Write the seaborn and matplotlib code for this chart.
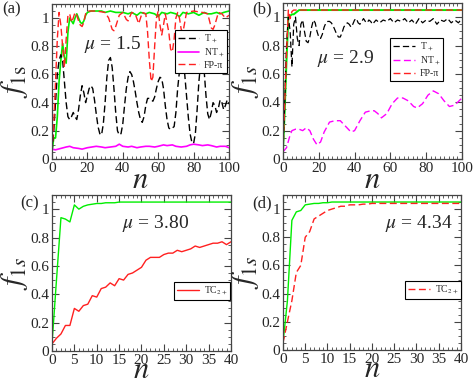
import numpy as np
import pandas as pd
import matplotlib
matplotlib.use("Agg")
import matplotlib.pyplot as plt
import seaborn as sns
from matplotlib.ticker import MultipleLocator

# ---- panel (a): mu = 1.5 ----
a_n_green = [0, 1, 2, 3, 4, 5, 6, 7, 8, 9, 10, 11, 12, 13, 14, 15, 16, 17, 18, 19, 20, 22, 25, 28, 30, 33, 36,
             40, 43, 45, 48, 50, 53, 55, 58, 60, 62, 65, 67, 70, 72, 74, 77, 80, 83, 86, 88, 90, 93, 95, 97, 100]
a_green = [0.05, 0.15, 0.15, 0.3, 0.55, 0.7, 0.82, 0.72, 0.68, 0.9, 1.0, 0.98, 0.96, 1.0, 1.03, 1.0, 0.97, 0.96,
           0.98, 1.02, 1.04, 1.05, 1.05, 1.05, 1.04, 1.05, 1.04, 1.04, 1.03, 1.04, 1.02, 1.04, 1.03, 1.04, 1.03,
           1.01, 1.04, 1.03, 1.04, 1.03, 1.01, 1.04, 1.03, 1.04, 1.02, 1.04, 1.03, 1.03, 1.04, 1.03, 1.04, 1.05]

a_n_red = [0, 1, 2, 3, 4, 5, 6, 7, 8, 9, 10, 11, 12, 13, 14, 15, 16, 17, 18, 19, 20, 25, 30, 32, 34, 35, 36, 38,
           40, 42, 43, 45, 47, 49, 51, 53, 54, 55, 56, 57, 58, 59, 60, 61, 62, 63, 64, 66, 67, 68, 69, 70, 71,
           72, 73, 74, 75, 76, 80, 85, 88, 89, 90, 91, 92, 94, 96, 98, 100]
a_red = [0.05, 0.25, 0.55, 0.85, 1.04, 0.95, 0.8, 0.65, 0.85, 1.02, 1.03, 0.97, 1.0, 1.04, 1.02, 0.98, 0.95,
         0.94, 0.97, 1.03, 1.05, 1.05, 1.04, 1.0, 0.92, 0.91, 0.94, 1.02, 1.04, 0.99, 0.98, 1.04, 1.03, 0.96,
         1.04, 1.03, 0.9, 0.7, 0.55, 0.58, 0.8, 1.0, 1.05, 0.95, 0.88, 0.95, 1.03, 0.9, 0.78, 0.76, 0.85, 1.0,
         1.04, 1.0, 0.92, 0.9, 0.97, 1.04, 1.05, 1.04, 1.03, 0.98, 0.93, 0.92, 0.95, 1.04, 1.03, 1.0, 1.02]

a_n_black = list(range(0, 101))
a_black = [0.05, 0.2, 0.4, 0.6, 0.7, 0.74, 0.7, 0.55, 0.4, 0.3, 0.28, 0.3, 0.33, 0.3, 0.28, 0.35, 0.45, 0.52,
           0.47, 0.4, 0.45, 0.5, 0.52, 0.5, 0.42, 0.32, 0.23, 0.18, 0.17, 0.25, 0.4, 0.58, 0.7, 0.72, 0.65, 0.5,
           0.33, 0.2, 0.17, 0.18, 0.25, 0.38, 0.5, 0.58, 0.62, 0.6, 0.55, 0.48, 0.4, 0.33, 0.28, 0.26, 0.3, 0.38,
           0.43, 0.43, 0.42, 0.41, 0.44, 0.5, 0.55, 0.58, 0.57, 0.5, 0.38, 0.28, 0.22, 0.21, 0.22, 0.23, 0.33,
           0.5, 0.62, 0.67, 0.66, 0.6, 0.45, 0.3, 0.18, 0.12, 0.11, 0.18, 0.35, 0.55, 0.68, 0.7, 0.62, 0.45, 0.32,
           0.28, 0.33, 0.4, 0.38, 0.33, 0.36, 0.42, 0.4, 0.35, 0.38, 0.42, 0.39]

a_n_mag = [0, 2, 5, 8, 10, 12, 15, 17, 20, 25, 28, 30, 33, 36, 38, 40, 43, 45, 48, 50, 53, 55, 58, 60, 63, 65,
           68, 70, 73, 76, 78, 80, 83, 85, 88, 90, 93, 95, 98, 100]
a_mag = [0.07, 0.065, 0.075, 0.085, 0.09, 0.08, 0.075, 0.07, 0.08, 0.09, 0.085, 0.08, 0.085, 0.09, 0.105, 0.09,
         0.085, 0.09, 0.08, 0.085, 0.09, 0.09, 0.085, 0.09, 0.1, 0.095, 0.1, 0.09, 0.085, 0.09, 0.1, 0.105, 0.1,
         0.095, 0.1, 0.095, 0.085, 0.09, 0.09, 0.08]

# ---- panel (b): mu = 2.9 ----
b_n_green = [0, 1, 2, 3, 4, 5, 6, 7, 8, 9, 100]
b_green = [0.05, 0.35, 0.7, 1.0, 1.01, 1.02, 1.02, 1.03, 1.04, 1.05, 1.05]
b_n_red = [0, 1, 2, 3, 4, 5, 6, 100]
b_red = [0.05, 0.4, 0.75, 1.05, 0.99, 1.04, 1.05, 1.05]

b_n_black = list(range(0, 51)) + list(range(52, 101, 2))
b_black = [0.05, 0.4, 0.8, 1.0, 0.9, 0.65, 0.95, 1.0, 0.85, 0.8, 0.95, 0.98, 0.9, 0.83, 0.82, 0.86, 0.93, 0.98,
           0.96, 0.9, 0.86, 0.85, 0.88, 0.93, 0.96, 0.97, 0.97, 0.96, 0.94, 0.91, 0.88, 0.86, 0.86, 0.89, 0.93,
           0.95, 0.96, 0.95, 0.93, 0.95, 0.98, 0.99, 0.96, 0.95, 0.97, 0.99, 0.97, 0.96, 0.98, 0.97, 0.95,
           0.98, 0.96, 0.98, 0.97, 0.99, 0.96, 0.98, 0.97, 0.99, 0.96, 0.98, 0.95, 0.99, 0.96, 0.98, 0.97, 0.99,
           0.95, 0.98, 0.97, 0.99, 0.96, 0.98, 0.96, 0.99]

b_n_mag = [0, 2, 4, 5, 7, 9, 11, 13, 15, 17, 19, 21, 23, 26, 29, 32, 35, 38, 40, 43, 46, 49, 51, 53, 55, 58,
           61, 64, 67, 70, 73, 75, 78, 81, 84, 87, 90, 93, 96, 100]
b_mag = [0.05, 0.08, 0.17, 0.2, 0.21, 0.21, 0.2, 0.22, 0.2, 0.14, 0.1, 0.12, 0.19, 0.26, 0.27, 0.27, 0.23, 0.19,
         0.2, 0.27, 0.33, 0.34, 0.34, 0.32, 0.29, 0.32, 0.39, 0.43, 0.43, 0.41, 0.37, 0.36, 0.39, 0.45, 0.48,
         0.46, 0.41, 0.37, 0.38, 0.43]

# ---- panel (c): mu = 3.80 ----
c_n = list(range(0, 41))
c_green = [0.05, 0.5, 0.94, 0.93, 0.91, 1.03, 1.0, 1.02, 1.03, 1.035, 1.04, 1.04, 1.045, 1.045, 1.045, 1.05,
           1.05, 1.05, 1.05, 1.05, 1.05, 1.05, 1.05, 1.05, 1.05, 1.05, 1.05, 1.05, 1.05, 1.05, 1.05, 1.05, 1.05,
           1.05, 1.05, 1.05, 1.05, 1.05, 1.05, 1.05, 1.05]
c_red = [0.05, 0.09, 0.12, 0.18, 0.18, 0.3, 0.28, 0.32, 0.33, 0.39, 0.38, 0.44, 0.45, 0.48, 0.46, 0.51, 0.5,
         0.54, 0.55, 0.57, 0.59, 0.64, 0.66, 0.66, 0.66, 0.68, 0.69, 0.69, 0.71, 0.7, 0.71, 0.72, 0.74, 0.73,
         0.74, 0.75, 0.76, 0.76, 0.77, 0.75, 0.77]

# ---- panel (d): mu = 4.34 ----
d_n = list(range(0, 41))
d_green = [0.05, 0.35, 0.92, 0.98, 0.99, 1.03, 1.035, 1.04, 1.04, 1.045, 1.045, 1.05, 1.05, 1.05, 1.05, 1.05,
           1.05, 1.05, 1.05, 1.05, 1.05, 1.05, 1.05, 1.05, 1.05, 1.05, 1.05, 1.05, 1.05, 1.05, 1.05, 1.05, 1.05,
           1.05, 1.05, 1.05, 1.05, 1.05, 1.05, 1.05, 1.05]
d_red = [0.05, 0.2, 0.35, 0.55, 0.6, 0.8, 0.84, 0.93, 0.95, 0.97, 0.99, 1.0, 1.01, 1.02, 1.02, 1.03, 1.03,
         1.03, 1.035, 1.035, 1.04, 1.04, 1.04, 1.04, 1.04, 1.04, 1.04, 1.04, 1.04, 1.04, 1.04, 1.04, 1.04, 1.04,
         1.04, 1.04, 1.04, 1.04, 1.04, 1.04, 1.04]

sns.set_style("ticks")
plt.rcParams["font.family"] = ["Liberation Serif", "DejaVu Serif"]
plt.rcParams["mathtext.fontset"] = "stix"

GREEN, RED, MAG, BLACK = "#00ee00", "#ff2020", "#ff00ff", "black"
DASH = (0, (5, 2.5))

fig = plt.figure(figsize=(4.74, 3.82), dpi=100)
ax_a = fig.add_axes([0.1097, 0.5838, 0.3734, 0.4058])
ax_b = fig.add_axes([0.5970, 0.5838, 0.3776, 0.4084])
ax_c = fig.add_axes([0.1097, 0.0812, 0.3776, 0.4084])
ax_d = fig.add_axes([0.5970, 0.0838, 0.3755, 0.4058])


def style(ax, xmax, xmaj, xmin, ylab, xpad=-6):
    ax.set_xlim(0, xmax)
    ax.set_ylim(0, 1.1)
    ax.xaxis.set_major_locator(MultipleLocator(xmaj))
    ax.xaxis.set_minor_locator(MultipleLocator(xmin))
    ax.yaxis.set_minor_locator(MultipleLocator(0.05))
    ax.set_yticks([0, 0.2, 0.4, 0.6, 0.8, 1.0])
    ax.set_yticklabels(["0", "0.2", "0.4", "0.6", "0.8", "1"])
    ax.tick_params(which="both", direction="in", top=True, right=True, labelsize=11, color="#444444")
    ax.tick_params(which="major", length=5, width=0.8, pad=2)
    ax.tick_params(which="minor", length=2.5, width=0.6)
    for s in ax.spines.values():
        s.set_linewidth(0.9)
        s.set_color("#444444")
    ax.set_xlabel("$n$", fontsize=22, labelpad=xpad)
    ax.set_ylabel(ylab, fontsize=22, labelpad=0)


def legend(ax, anchor):
    leg = ax.legend(loc="upper right", bbox_to_anchor=anchor, fontsize=7, frameon=True, fancybox=False,
                    framealpha=1, edgecolor="black", handlelength=2.2, borderpad=0.3, labelspacing=0.2,
                    handletextpad=0.5, borderaxespad=0)
    leg.get_frame().set_linewidth(0.8)


# (a)
sns.lineplot(x=a_n_green, y=a_green, ax=ax_a, color=GREEN, lw=1.2)
sns.lineplot(x=a_n_black, y=a_black, ax=ax_a, color=BLACK, lw=1.0, linestyle=DASH, label="T$_+$")
sns.lineplot(x=a_n_mag, y=a_mag, ax=ax_a, color=MAG, lw=1.2, label="NT$_+$")
sns.lineplot(x=a_n_red, y=a_red, ax=ax_a, color=RED, lw=1.0, linestyle=DASH, label="FP-π")
style(ax_a, 100, 20, 2.5, r"$f_{1\mathrm{s}}$")
legend(ax_a, (0.99, 0.835))
ax_a.text(18, 0.81, r"$\mu$ = 1.5", fontsize=14, va="center")

# (b)
sns.lineplot(x=b_n_green, y=b_green, ax=ax_b, color=GREEN, lw=1.4)
sns.lineplot(x=b_n_black, y=b_black, ax=ax_b, color=BLACK, lw=0.9, linestyle=DASH, label="T$_+$")
sns.lineplot(x=b_n_mag, y=b_mag, ax=ax_b, color=MAG, lw=1.0, linestyle=DASH, label="NT$_+$")
sns.lineplot(x=b_n_red, y=b_red, ax=ax_b, color=RED, lw=1.0, linestyle=DASH, label="FP-π")
style(ax_b, 100, 20, 2.5, r"$f_{1s}$")
legend(ax_b, (0.894, 0.776))
ax_b.text(19, 0.71, r"$\mu$ = 2.9", fontsize=14, va="center")

# (c)
sns.lineplot(x=c_n, y=c_green, ax=ax_c, color=GREEN, lw=1.0)
sns.lineplot(x=c_n, y=c_red, ax=ax_c, color=RED, lw=1.0, label="TC$_{2+}$")
style(ax_c, 40, 5, 1, r"$f_{1s}$", xpad=-8)
legend(ax_c, (0.994, 0.442))
ax_c.text(15.6, 0.9, r"$\mu$ = 3.80", fontsize=14, va="center")

# (d)
sns.lineplot(x=d_n, y=d_green, ax=ax_d, color=GREEN, lw=1.0)
sns.lineplot(x=d_n, y=d_red, ax=ax_d, color=RED, lw=1.0, linestyle=DASH, label="TC$_{2+}$")
style(ax_d, 40, 5, 1, r"$f_{1s}$", xpad=-8)
legend(ax_d, (1.0, 0.445))
ax_d.text(23, 0.9, r"$\mu$ = 4.34", fontsize=14, va="center")

fig.text(2 / 474, 1 - 9 / 382, "(a)", fontsize=12, va="center")
fig.text(252 / 474, 1 - 9 / 382, "(b)", fontsize=12, va="center")
fig.text(20 / 474, 1 - 203 / 382, "(c)", fontsize=12, va="center")
fig.text(252 / 474, 1 - 203 / 382, "(d)", fontsize=12, va="center")

fig.savefig("out.png", dpi=100)
